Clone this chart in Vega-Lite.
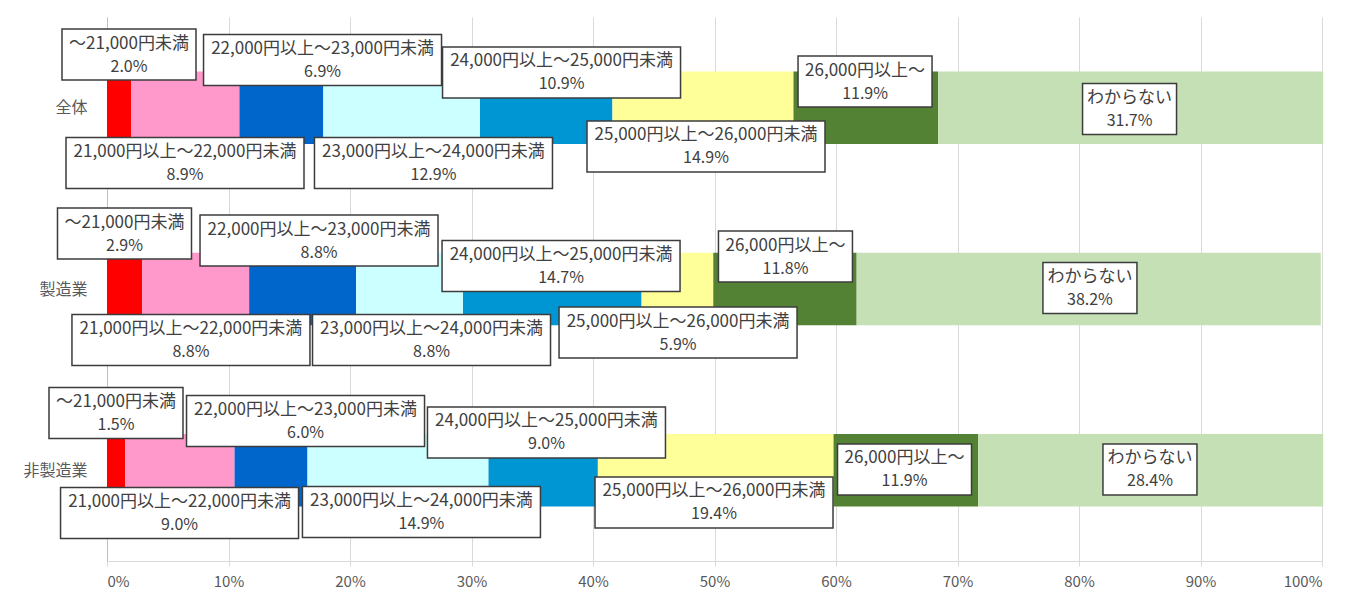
{
  "$schema": "https://vega.github.io/schema/vega-lite/v6.json",
  "width": 1215,
  "height": 544,
  "autosize": {"type": "none"},
  "padding": {"left": 107, "top": 17, "right": 40, "bottom": 31},
  "config": {"view": {"stroke": null}, "font": "Noto Sans CJK JP"},
  "data": {"values": [
    {"group": "全体", "cat": "～21,000円未満", "k": 1, "v": 0.020, "lx": 0.0181, "ly": 0.207},
    {"group": "全体", "cat": "21,000円以上～22,000円未満", "k": 2, "v": 0.089, "lx": 0.0642, "ly": 0.805},
    {"group": "全体", "cat": "22,000円以上～23,000円未満", "k": 3, "v": 0.069, "lx": 0.1774, "ly": 0.237},
    {"group": "全体", "cat": "23,000円以上～24,000円未満", "k": 4, "v": 0.129, "lx": 0.2687, "ly": 0.805},
    {"group": "全体", "cat": "24,000円以上～25,000円未満", "k": 5, "v": 0.109, "lx": 0.3741, "ly": 0.306},
    {"group": "全体", "cat": "25,000円以上～26,000円未満", "k": 6, "v": 0.149, "lx": 0.4930, "ly": 0.714},
    {"group": "全体", "cat": "26,000円以上～", "k": 7, "v": 0.119, "lx": 0.6239, "ly": 0.356},
    {"group": "全体", "cat": "わからない", "k": 8, "v": 0.317, "lx": 0.8416, "ly": 0.507},
    {"group": "製造業", "cat": "～21,000円未満", "k": 1, "v": 0.029, "lx": 0.0144, "ly": 1.194},
    {"group": "製造業", "cat": "21,000円以上～22,000円未満", "k": 2, "v": 0.088, "lx": 0.0691, "ly": 1.781},
    {"group": "製造業", "cat": "22,000円以上～23,000円未満", "k": 3, "v": 0.088, "lx": 0.1745, "ly": 1.233},
    {"group": "製造業", "cat": "23,000円以上～24,000円未満", "k": 4, "v": 0.088, "lx": 0.2671, "ly": 1.781},
    {"group": "製造業", "cat": "24,000円以上～25,000円未満", "k": 5, "v": 0.147, "lx": 0.3737, "ly": 1.373},
    {"group": "製造業", "cat": "25,000円以上～26,000円未満", "k": 6, "v": 0.059, "lx": 0.4700, "ly": 1.740},
    {"group": "製造業", "cat": "26,000円以上～", "k": 7, "v": 0.118, "lx": 0.5584, "ly": 1.321},
    {"group": "製造業", "cat": "わからない", "k": 8, "v": 0.382, "lx": 0.8090, "ly": 1.495},
    {"group": "非製造業", "cat": "～21,000円未満", "k": 1, "v": 0.015, "lx": 0.0074, "ly": 2.184},
    {"group": "非製造業", "cat": "21,000円以上～22,000円未満", "k": 2, "v": 0.090, "lx": 0.0597, "ly": 2.735},
    {"group": "非製造業", "cat": "22,000円以上～23,000円未満", "k": 3, "v": 0.060, "lx": 0.1634, "ly": 2.228},
    {"group": "非製造業", "cat": "23,000円以上～24,000円未満", "k": 4, "v": 0.149, "lx": 0.2588, "ly": 2.730},
    {"group": "非製造業", "cat": "24,000円以上～25,000円未満", "k": 5, "v": 0.090, "lx": 0.3617, "ly": 2.291},
    {"group": "非製造業", "cat": "25,000円以上～26,000円未満", "k": 6, "v": 0.194, "lx": 0.4996, "ly": 2.677},
    {"group": "非製造業", "cat": "26,000円以上～", "k": 7, "v": 0.119, "lx": 0.6564, "ly": 2.495},
    {"group": "非製造業", "cat": "わからない", "k": 8, "v": 0.284, "lx": 0.8584, "ly": 2.495}
  ]},
  "layer": [
    {
      "mark": {"type": "bar"},
      "encoding": {
        "y": {"field": "group", "type": "nominal", "sort": ["全体", "製造業", "非製造業"],
              "scale": {"paddingInner": 0.6, "paddingOuter": 0.3},
              "axis": {"title": null, "labelFontSize": 16, "labelColor": "#595959", "labelPadding": 15,
                       "domainColor": "#BFBFBF", "tickColor": "#D9D9D9", "tickBand": "extent", "tickSize": 5}},
        "x": {"field": "v", "type": "quantitative", "stack": "zero",
              "scale": {"domain": [0, 1]},
              "axis": {"title": null, "format": "%", "values": [0, 0.1, 0.2, 0.3, 0.4, 0.5, 0.6, 0.7, 0.8, 0.9, 1],
                       "grid": true, "gridColor": "#D9D9D9", "domainColor": "#D9D9D9", "tickColor": "#D9D9D9",
                       "tickSize": 5, "labelColor": "#595959", "labelFontSize": 15, "labelPadding": 8}},
        "color": {"field": "cat", "type": "nominal",
                  "scale": {"domain": ["～21,000円未満", "21,000円以上～22,000円未満", "22,000円以上～23,000円未満", "23,000円以上～24,000円未満", "24,000円以上～25,000円未満", "25,000円以上～26,000円未満", "26,000円以上～", "わからない"],
                            "range": ["#FF0000", "#FF99CC", "#0066CC", "#CCFFFF", "#0096D4", "#FFFF99", "#548235", "#C5E0B4"]},
                  "legend": null},
        "order": {"field": "k", "type": "quantitative"}
      }
    },
    {
      "mark": {"type": "point", "filled": true, "fill": "white", "stroke": "#3C3C3C", "strokeWidth": 1.5, "opacity": 1, "size": 10000},
      "encoding": {
        "x": {"field": "lx", "type": "quantitative", "axis": {"title": null}},
        "y": {"field": "ly", "type": "quantitative", "scale": {"domain": [0, 3], "reverse": true}, "axis": null},
        "shape": {"field": "cat", "type": "nominal",
                  "scale": {"domain": ["～21,000円未満", "21,000円以上～22,000円未満", "22,000円以上～23,000円未満", "23,000円以上～24,000円未満", "24,000円以上～25,000円未満", "25,000円以上～26,000円未満", "26,000円以上～", "わからない"],
                            "range": ["M-1.34,-0.51H1.34V0.51H-1.34Z", "M-2.38,-0.51H2.38V0.51H-2.38Z", "M-2.38,-0.51H2.38V0.51H-2.38Z", "M-2.38,-0.51H2.38V0.51H-2.38Z", "M-2.38,-0.51H2.38V0.51H-2.38Z", "M-2.38,-0.51H2.38V0.51H-2.38Z", "M-1.34,-0.51H1.34V0.51H-1.34Z", "M-0.94,-0.51H0.94V0.51H-0.94Z"]},
                  "legend": null}
      }
    },
    {
      "mark": {"type": "text", "fontSize": 17, "color": "#404040", "dy": -11},
      "encoding": {
        "x": {"field": "lx", "type": "quantitative", "axis": {"title": null}},
        "y": {"field": "ly", "type": "quantitative", "scale": {"domain": [0, 3], "reverse": true}, "axis": null},
        "text": {"field": "cat", "type": "nominal"}
      }
    },
    {
      "mark": {"type": "text", "fontSize": 16, "color": "#404040", "dy": 12},
      "encoding": {
        "x": {"field": "lx", "type": "quantitative", "axis": {"title": null}},
        "y": {"field": "ly", "type": "quantitative", "scale": {"domain": [0, 3], "reverse": true}, "axis": null},
        "text": {"field": "v", "type": "quantitative", "format": ".1%"}
      }
    }
  ],
  "resolve": {"scale": {"y": "independent"}}
}
